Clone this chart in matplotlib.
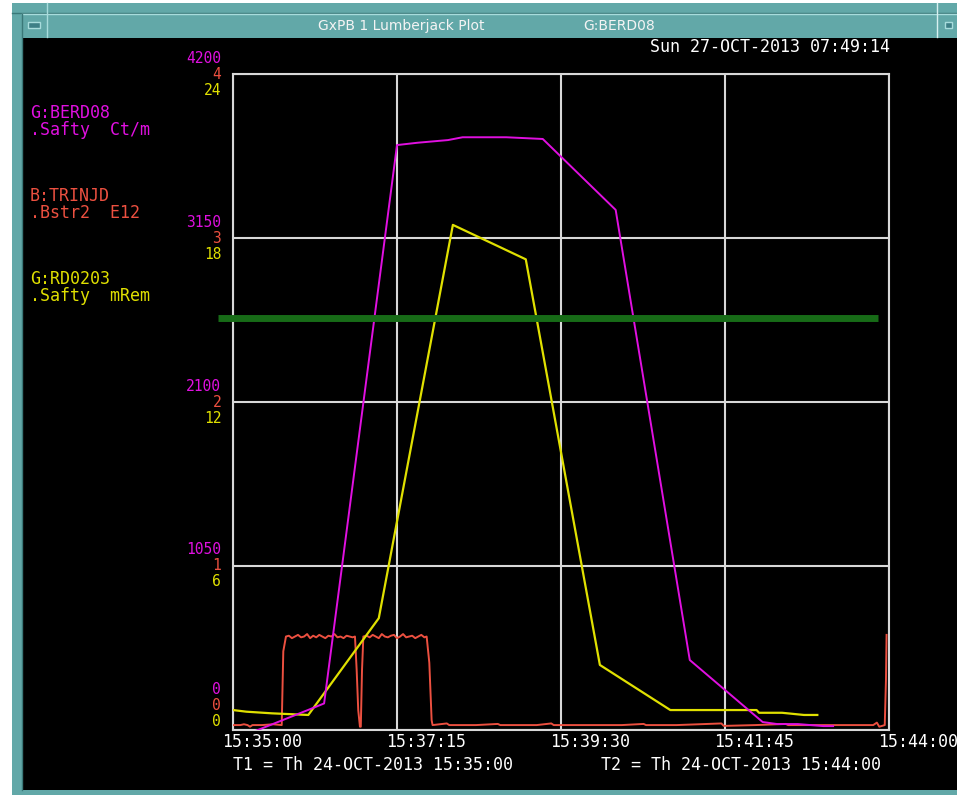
import matplotlib
matplotlib.use("Agg")
import matplotlib.pyplot as plt
from matplotlib.patches import Rectangle
from matplotlib.lines import Line2D
from matplotlib.transforms import offset_copy

# time axis: seconds after 15:35:00
x_ticks = [0, 135, 270, 405, 540]
x_labels = ["15:35:00", "15:37:15", "15:39:30", "15:41:45", "15:44:00"]

# per-channel y ticks (shared gridlines)
mag_ticks = [0, 1050, 2100, 3150, 4200]
red_ticks = [0, 1, 2, 3, 4]
yel_ticks = [0, 6, 12, 18, 24]

# G:BERD08 .Safty Ct/m
mag_t = [14, 63, 75, 135, 152, 177, 189, 225, 255, 315, 376, 436, 448, 465, 486, 494]
mag_v = [-20, 132, 170, 3745, 3760, 3777, 3795, 3795, 3784, 3330, 448, 51, 38, 38, 25, 25]

# G:RD0203 .Safty mRem
yel_t = [0, 11, 32, 62, 120, 181, 241, 302, 360, 431, 433, 452, 470, 481]
yel_v = [0.73, 0.67, 0.61, 0.55, 4.09, 18.48, 17.22, 2.38, 0.73, 0.73, 0.63, 0.63, 0.55, 0.55]

# B:TRINJD .Bstr2 E12
red_t = [0, 6, 9, 12, 14, 16, 24, 33, 40.1, 41.4, 43.6,
         46, 48.5, 51, 53.5, 56, 58.5, 61, 63.5, 66, 68.5, 71, 73.5, 76, 78.5,
         81, 83.5, 86, 88.5, 91, 93.5, 96, 98.5,
         100.4, 101.8, 103.1, 104.5, 105.2, 106.2, 107.3,
         110, 112.5, 115, 117.5, 120, 122.5, 125, 127.5, 130, 132.5, 135, 137.5,
         140, 142.5, 145, 147.5, 150, 152.5, 155, 157.5,
         159.4, 161.6, 163.5, 164.3,
         176, 178, 200, 218, 220, 250, 262, 264, 290, 320, 338, 340, 365, 402,
         404, 430, 455, 457, 482, 500, 527, 530, 532, 536.5, 537.5, 538]
red_v = [0.03, 0.03, 0.035, 0.03, 0.02, 0.03, 0.03, 0.035, 0.03, 0.48, 0.57,
         0.575, 0.56, 0.57, 0.58, 0.565, 0.57, 0.585, 0.56, 0.575, 0.565, 0.58, 0.57, 0.56, 0.575,
         0.57, 0.585, 0.565, 0.57, 0.56, 0.575, 0.57, 0.565,
         0.57, 0.366, 0.12, 0.02, 0.02, 0.366, 0.57,
         0.575, 0.565, 0.58, 0.57, 0.56, 0.585, 0.57, 0.565, 0.575, 0.58, 0.56, 0.57,
         0.585, 0.565, 0.57, 0.575, 0.56, 0.57, 0.58, 0.565,
         0.57, 0.41, 0.06, 0.03,
         0.04, 0.03, 0.03, 0.037, 0.03, 0.03, 0.04, 0.03, 0.03, 0.03, 0.037, 0.03, 0.03, 0.04,
         0.025, 0.03, 0.037, 0.03, 0.03, 0.03, 0.03, 0.045, 0.02, 0.03, 0.305, 0.58]

limit_level = 2640  # green line, Ct/m

legend_names = [("G:BERD08", ".Safty  Ct/m"), ("B:TRINJD", ".Bstr2  E12"), ("G:RD0203", ".Safty  mRem")]

MAG = "#e010e0"
RED = "#ec5040"
YEL = "#e0e000"
GRID = "#d8d8d8"
TEAL = "#62a8a8"
MONO = "DejaVu Sans Mono"

W, H = 957, 795
fig = plt.figure(figsize=(W / 100, H / 100), dpi=100, facecolor="white")


def rect(x0, y0, x1, y1, color, z=-5, edge="none"):
    fig.add_artist(Rectangle((x0 / W, 1 - y1 / H), (x1 - x0) / W, (y1 - y0) / H,
                             transform=fig.transFigure, facecolor=color,
                             edgecolor=edge, lw=1, zorder=z))


def line(xs, ys, color, lw=1.0):
    fig.add_artist(Line2D([x / W for x in xs], [1 - y / H for y in ys],
                          transform=fig.transFigure, color=color, lw=lw, zorder=-4))


def ftext(x, y, s, color="white", ha="left", size=12, family=MONO):
    fig.text(x / W, 1 - y / H, s, color=color, ha=ha, va="center",
             fontsize=size, family=family)


# window frame
rect(12, 3, W, H, TEAL)
rect(22, 38, W, 790, "black")
line([12, W], [12.5, 12.5], "#3a7878")
line([22, W], [14, 14], "#a8dcdc")
line([47, 47], [3, 37], "#a8dcdc")
line([937, 937], [3, 37], "#d8f0f0")
line([22, 22], [14, 790], "#3a7878")
rect(28, 22, 40, 28, "#3d7f86", z=-3, edge="#a8dcdc")
rect(945, 22, 952, 28, "#3d7f86", z=-3, edge="#a8dcdc")
ftext(318, 26, "GxPB 1 Lumberjack Plot", color="#f4f4f4", size=10, family="DejaVu Sans")
ftext(583, 26, "G:BERD08", color="#f4f4f4", size=10, family="DejaVu Sans")

ftext(890, 47, "Sun 27-OCT-2013 07:49:14", ha="right")
ftext(233, 765, "T1 = Th 24-OCT-2013 15:35:00")
ftext(601, 765, "T2 = Th 24-OCT-2013 15:44:00")

for (name, sub), col, y in zip(legend_names, [MAG, RED, YEL], [113, 196, 279]):
    ftext(30, y, name, color=col)
    ftext(30, y + 17, sub, color=col)

# plot area
ax = fig.add_axes([233 / W, (H - 730) / H, 656 / W, 656 / H])
ax.set_facecolor("black")
ax.set_xlim(0, 540)
ax.set_ylim(0, 4200)
ax.set_xticks(x_ticks)
ax.set_yticks(mag_ticks)
ax.grid(True, color=GRID, lw=1.5)
for sp in ax.spines.values():
    sp.set_color(GRID)
    sp.set_linewidth(1.5)

ax_red = ax.twinx()
ax_red.set_ylim(0, 4)
ax_yel = ax.twinx()
ax_yel.set_ylim(0, 24)
ax_mag = ax.twinx()
ax_mag.set_ylim(0, 4200)
for a in (ax, ax_red, ax_yel, ax_mag):
    a.set_xlim(0, 540)
    a.tick_params(left=False, right=False, bottom=False, top=False,
                  labelleft=False, labelright=False, labelbottom=False)
for a in (ax_red, ax_yel, ax_mag):
    for sp in a.spines.values():
        sp.set_visible(False)

ax_red.plot(red_t, red_v, color=RED, lw=1.4)
ax_yel.plot(yel_t, yel_v, color=YEL, lw=1.6)
ax_mag.plot(mag_t, mag_v, color=MAG, lw=1.4)
ax_mag.plot([-0.023, 0.983], [limit_level, limit_level], color="#176b17", lw=5,
            transform=ax_mag.get_yaxis_transform(), clip_on=False, solid_capstyle="butt")

# stacked y labels: magenta above, red on the line, yellow below
for i, (m, r, yv) in enumerate(zip(mag_ticks, red_ticks, yel_ticks)):
    lift = 24 if i == 0 else 0
    for a, val, dy, col in [(ax_mag, m, 16, MAG), (ax_red, r, 0, RED), (ax_yel, yv, -16, YEL)]:
        tr = offset_copy(a.get_yaxis_transform(), fig=fig, x=0, y=dy + lift, units="dots")
        a.text(-0.018, val, str(val), transform=tr, color=col, ha="right", va="center",
               fontsize=10.5, family=MONO, clip_on=False)

for t, lab in zip(x_ticks, x_labels):
    tr = offset_copy(ax.get_xaxis_transform(), fig=fig, x=-11, y=0, units="dots")
    ax.text(t, -0.018, lab, transform=tr, color="white", ha="left", va="center",
            fontsize=12, family=MONO, clip_on=False)

fig.savefig("out.png", dpi=100, facecolor=fig.get_facecolor())
